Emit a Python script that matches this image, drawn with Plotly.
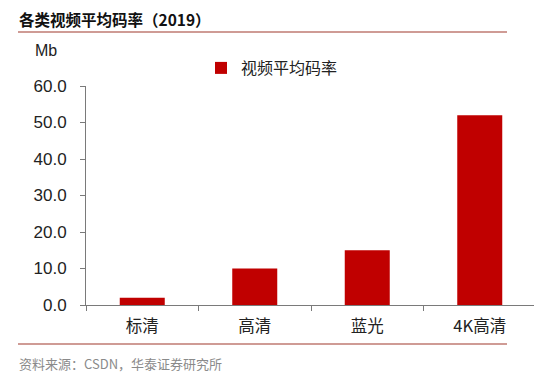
import plotly.graph_objects as go

categories = ["标清", "高清", "蓝光", "4K高清"]
values = [2.0, 10.0, 15.0, 52.0]
series_name = "视频平均码率"
y_ticks = [0, 10, 20, 30, 40, 50, 60]

# page body has an 8px margin; work in screenshot pixels and shift
OFF = 8
W, H = 542 - OFF, 381 - OFF
PL, PR, PT, PB = 86, 536, 86, 305   # plot area in screenshot px
L = PL - OFF
R = W - (PR - OFF)
T = PT - OFF
B = H - (PB - OFF)
pw = PR - PL
ph = PB - PT

def px(x):
    return (x - PL) / pw

def py(y):
    return (PB - y) / ph

bar_color = "#C00000"
line_color = "#A0382C"
axis_color = "#7a7a7a"
cjk = "Noto Sans CJK SC"
latin = "Liberation Sans, Arial"

fig = go.Figure()
fig.add_trace(go.Bar(
    x=categories, y=values, name=series_name,
    marker=dict(color=bar_color, line=dict(width=0)),
    showlegend=True,
))

fig.update_layout(
    width=W, height=H,
    margin=dict(l=L, r=R, t=T, b=B, pad=0),
    paper_bgcolor="white", plot_bgcolor="white",
    bargap=0.6,
    showlegend=True,
    legend=dict(
        orientation="h", x=px(201), y=py(68), xanchor="left", yanchor="middle",
        font=dict(family=cjk, size=16, color="#222222"),
        itemwidth=30, bgcolor="rgba(0,0,0,0)",
    ),
    xaxis=dict(
        showline=True, linecolor=axis_color, linewidth=1,
        ticks="outside", ticklen=5, tickcolor=axis_color,
        tickson="boundaries", ticklabelstandoff=6,
        tickfont=dict(family=cjk, size=16.5, color="#222222"),
        showgrid=False, zeroline=False,
    ),
    yaxis=dict(
        range=[0, 60], tickvals=y_ticks, tickformat=".1f",
        showline=True, linecolor=axis_color, linewidth=1,
        ticks="outside", ticklen=5, tickcolor=axis_color,
        ticklabelstandoff=10,
        tickfont=dict(family=latin, size=17, color="#222222"),
        showgrid=False, zeroline=False,
    ),
    shapes=[
        dict(type="line", xref="paper", yref="paper",
             x0=px(18), x1=px(507), y0=py(32), y1=py(32),
             line=dict(color=line_color, width=1.2)),
        dict(type="line", xref="paper", yref="paper",
             x0=px(18), x1=px(507), y0=py(344), y1=py(344),
             line=dict(color=line_color, width=1.2)),
    ],
    annotations=[
        dict(text="<b>各类视频平均码率（2019）</b>", xref="paper", yref="paper",
             x=px(17), y=py(19), xanchor="left", yanchor="middle", showarrow=False,
             font=dict(family=cjk, size=15.5, color="#111111")),
        dict(text="Mb", xref="paper", yref="paper",
             x=px(46), y=py(51), xanchor="center", yanchor="middle", showarrow=False,
             font=dict(family=latin, size=16, color="#222222")),
        dict(text="资料来源：CSDN，华泰证券研究所", xref="paper", yref="paper",
             x=px(17), y=py(363), xanchor="left", yanchor="middle", showarrow=False,
             font=dict(family=cjk, size=13, color="#8a8a8a")),
    ],
)

fig.write_html("out.html")
